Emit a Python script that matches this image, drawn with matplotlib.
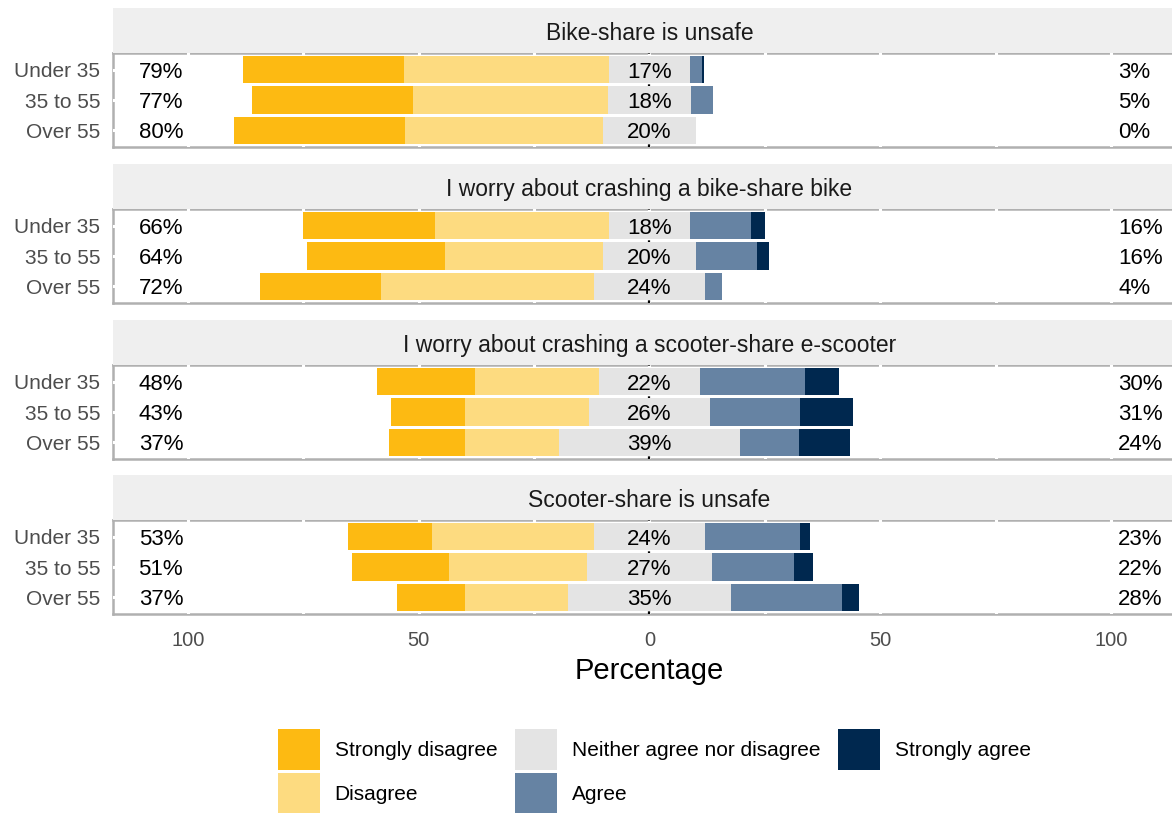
import numpy as np
import matplotlib.pyplot as plt
from matplotlib.patches import Patch

plt.rcParams['font.family'] = ['Liberation Sans', 'DejaVu Sans']

questions = ['Bike-share is unsafe',
             'I worry about crashing a bike-share bike',
             'I worry about crashing a scooter-share e-scooter',
             'Scooter-share is unsafe']
groups = ['Under 35', '35 to 55', 'Over 55']
levels = ['Strongly disagree', 'Disagree', 'Neither agree nor disagree',
          'Agree', 'Strongly agree']

# percentages per question (rows) and age group (columns)
strongly_disagree = [[35.0, 35.0, 37.0], [28.4, 29.8, 26.2], [21.1, 16.1, 16.6], [18.2, 21.1, 14.7]]
disagree = [[44.4, 42.2, 43.0], [37.7, 34.4, 46.0], [27.0, 26.9, 20.4], [35.0, 29.9, 22.3]]
neutral = [[17.4, 18.0, 20.0], [17.7, 20.0, 24.2], [21.7, 26.0, 39.0], [24.2, 27.0, 35.2]]
agree = [[2.6, 4.8, 0.0], [13.1, 13.3, 3.6], [22.8, 19.7, 12.9], [20.4, 17.8, 24.1]]
strongly_agree = [[0.6, 0.0, 0.0], [3.1, 2.5, 0.0], [7.4, 11.3, 11.1], [2.2, 4.2, 3.7]]

colors = ['#FDBA12', '#FDDB80', '#E4E4E4', '#6683A3', '#00284F']

W, H = 1172, 813
fig = plt.figure(figsize=(W / 100, H / 100), dpi=100)

panel_left, panel_right = 113, 1186
panel_tops = [53, 209, 365, 520]
panel_h, strip_h = 94, 45
xlim = (-116.2, 116.2)


def fx(px):
    return px / W


def fy(top, h):
    return 1 - (top + h) / H


for qi, q in enumerate(questions):
    top = panel_tops[qi]
    ax = fig.add_axes([fx(panel_left), fy(top, panel_h),
                       fx(panel_right - panel_left), panel_h / H])
    strip = fig.add_axes([fx(panel_left), fy(top - strip_h, strip_h),
                          fx(panel_right - panel_left), strip_h / H])
    strip.set_facecolor('#EFEFEF')
    strip.set_xticks([])
    strip.set_yticks([])
    for s in strip.spines.values():
        s.set_visible(False)
    strip.text(0.5, 0.5, q, ha='center', va='center_baseline', fontsize=16.5,
               color='#1A1A1A', transform=strip.transAxes)

    sd = np.array(strongly_disagree[qi])
    d = np.array(disagree[qi])
    n = np.array(neutral[qi])
    a = np.array(agree[qi])
    sa = np.array(strongly_agree[qi])
    y = np.arange(len(groups))

    start = -(sd + d + n / 2)
    segs = [sd, d, n, a, sa]
    left = start.copy()
    for seg, c in zip(segs, colors):
        ax.barh(y, seg, left=left, height=0.9, color=c, zorder=2)
        left = left + seg

    # white grid cutting through the panel border
    for gx in np.arange(-100, 101, 25):
        ax.axvline(gx, color='white', lw=2.2, zorder=1)
    for gy in y:
        ax.axhline(gy, color='white', lw=2.2, zorder=1)
    ax.axvline(0, color='black', lw=1.6, ls=(0, (1.2, 1.8)), zorder=1.5)

    for yi in y:
        ax.text(-101, yi, f'{sd[yi] + d[yi]:.0f}%', ha='right', va='center_baseline',
                fontsize=16, color='black', zorder=3)
        ax.text(0, yi, f'{n[yi]:.0f}%', ha='center', va='center_baseline',
                fontsize=16, color='black', zorder=3)
        ax.text(101.5, yi, f'{a[yi] + sa[yi]:.0f}%', ha='left', va='center_baseline',
                fontsize=16, color='black', zorder=3)

    ax.set_xlim(xlim)
    ax.set_ylim(2.55, -0.55)
    ax.set_yticks(y)
    ax.set_yticklabels(groups, fontsize=15, color='#4D4D4D')
    for lab in ax.get_yticklabels():
        lab.set_va('center_baseline')
    ax.tick_params(axis='y', length=0, pad=9)
    for s in ax.spines.values():
        s.set_color('#B0B0B0')
        s.set_linewidth(1.8)
        s.set_zorder(0.5)
    if qi < len(questions) - 1:
        ax.set_xticks([])
    else:
        ticks = [-100, -50, 0, 50, 100]
        ax.set_xticks(ticks)
        ax.set_xticklabels([str(abs(t)) for t in ticks], fontsize=14.5, color='#4D4D4D')
        ax.tick_params(axis='x', length=0, pad=12)
        ax.set_xlabel('Percentage', fontsize=21, labelpad=5)

handles = [Patch(facecolor=c, edgecolor='none', label=l) for c, l in zip(colors, levels)]
fig.legend(handles=handles, ncol=3, loc='upper left',
           bbox_to_anchor=(fx(278), 1 - 729 / H), frameon=False,
           fontsize=15, handlelength=2.0, handleheight=2.65,
           handletextpad=0.72, columnspacing=0.85, labelspacing=0.15,
           borderpad=0, borderaxespad=0)

fig.savefig('out.png', dpi=100)
